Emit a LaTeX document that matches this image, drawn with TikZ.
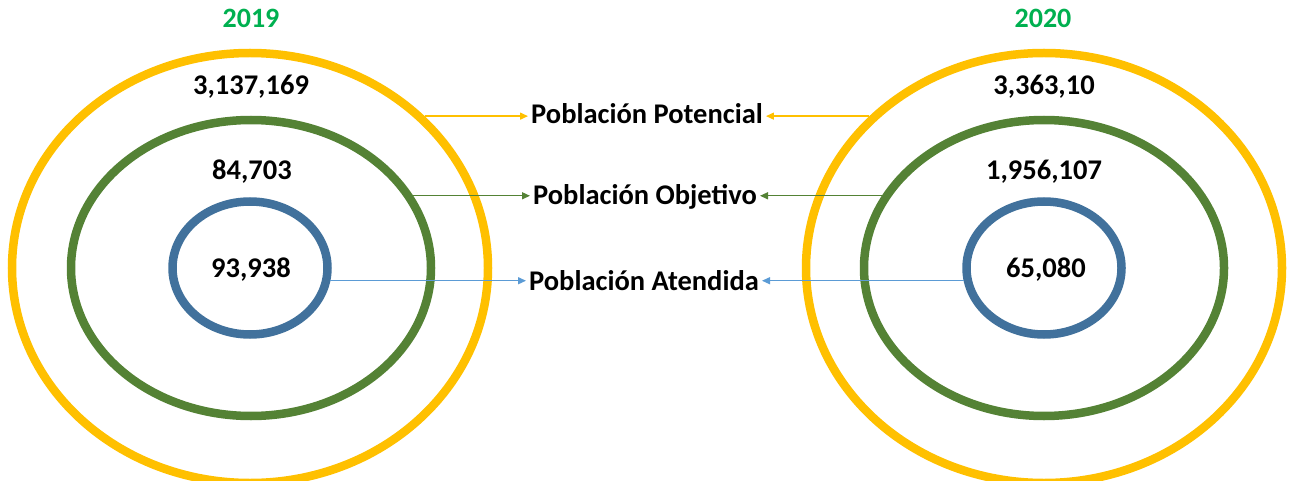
\documentclass[tikz,border=0pt]{standalone}
\usepackage{fontspec}
\setmainfont{Carlito}
\usetikzlibrary{shapes.geometric,arrows.meta}
\definecolor{ringY}{HTML}{FFC000}
\definecolor{ringG}{HTML}{548235}
\definecolor{ringB}{HTML}{41719C}
\definecolor{arrB}{HTML}{5B9BD5}
\definecolor{yearG}{HTML}{00B050}
\begin{document}
\begin{tikzpicture}[x=1pt,y=-1pt,
  ring/.style={ellipse, draw, line width=8.5pt, inner sep=0pt},
  num/.style={font=\fontsize{28.5}{32}\selectfont\bfseries, anchor=base, inner sep=0pt},
  lbl/.style={font=\fontsize{28.5}{32}\selectfont\bfseries, anchor=base, inner sep=3pt},
  year/.style={font=\fontsize{28}{32}\selectfont\bfseries, anchor=base, text=yearG, inner sep=0pt},
  conn/.style={line width=1.4pt, -{Triangle[length=8pt,width=7pt]}}]
\useasboundingbox (0,0) rectangle (1290,481);
% rings 2019
\node[ring, draw=ringY, minimum width=476pt, minimum height=430pt] (y19) at (250,268) {};
\node[ring, draw=ringG, minimum width=360pt, minimum height=296pt] (g19) at (251,268) {};
\node[ring, draw=ringB, minimum width=155pt, minimum height=133pt] (b19) at (250,268) {};
% rings 2020
\node[ring, draw=ringY, minimum width=476pt, minimum height=430pt] (y20) at (1044,268) {};
\node[ring, draw=ringG, minimum width=360pt, minimum height=296pt] (g20) at (1044,268) {};
\node[ring, draw=ringB, minimum width=155pt, minimum height=133pt] (b20) at (1044,268) {};
% years
\node[year] (t19) at (251,28) {2019};
\node[year] (t20) at (1043,28) {2020};
% numbers
\node[num] (n1) at (251,95) {3,137,169};
\node[num] (n2) at (252,180) {84,703};
\node[num] (n3) at (251,277) {93,938};
\node[num] (m1) at (1044,95) {3,363,10};
\node[num] (m2) at (1044,180) {1,956,107};
\node[num] (m3) at (1046,277) {65,080};
% labels
\node[lbl] (pot) at (647,124) {Población Potencial};
\node[lbl] (obj) at (645,205) {Población Objetivo};
\node[lbl] (ate) at (644,290) {Población Atendida};
% connectors
\draw[conn, ringY] (y19.41) -- (y19.41 -| pot.west);
\draw[conn, ringY] (y20.139) -- (y20.139 -| pot.east);
\draw[conn, ringG] (g19.24) -- (g19.24 -| obj.west);
\draw[conn, ringG] (g20.156) -- (g20.156 -| obj.east);
\draw[conn, arrB] (b19.-9) -- (b19.-9 -| ate.west);
\draw[conn, arrB] (b20.-171) -- (b20.-171 -| ate.east);
\end{tikzpicture}
\end{document}
